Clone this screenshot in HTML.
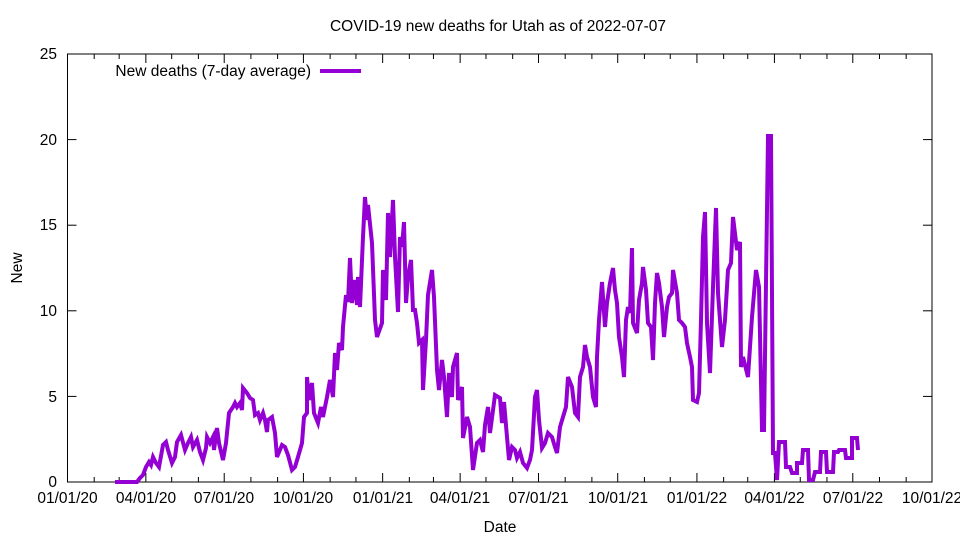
<!DOCTYPE html>
<html><head><meta charset="utf-8"><style>
html,body{margin:0;padding:0;background:#fff}
svg{display:block}
text{font-family:"Liberation Sans",sans-serif;font-size:15.5px;fill:#000}
</style></head><body>
<svg id="s" width="960" height="540" viewBox="0 0 960 540" xmlns="http://www.w3.org/2000/svg">
<rect width="960" height="540" fill="#fff"/>
<g id="ticks" stroke="#000" stroke-width="1"></g>
<rect x="67.5" y="54" width="864.5" height="428" fill="none" stroke="#000" stroke-width="1"/>
<text x="498" y="31" text-anchor="middle">COVID-19 new deaths for Utah as of 2022-07-07</text>
<text x="500" y="532" text-anchor="middle">Date</text>
<text transform="translate(22,268) rotate(-90)" text-anchor="middle">New</text>
<g text-anchor="end">
<text x="57" y="487">0</text>
<text x="57" y="402">5</text>
<text x="57" y="316">10</text>
<text x="57" y="230">15</text>
<text x="57" y="145">20</text>
<text x="57" y="59">25</text>
</g>
<g text-anchor="middle">
<text x="67.5" y="503">01/01/20</text>
<text x="146" y="503">04/01/20</text>
<text x="224" y="503">07/01/20</text>
<text x="303" y="503">10/01/20</text>
<text x="383" y="503">01/01/21</text>
<text x="460" y="503">04/01/21</text>
<text x="538.5" y="503">07/01/21</text>
<text x="618" y="503">10/01/21</text>
<text x="697" y="503">01/01/22</text>
<text x="774.5" y="503">04/01/22</text>
<text x="853" y="503">07/01/22</text>
<text x="932" y="503">10/01/22</text>
</g>
<text x="311" y="76" text-anchor="end">New deaths (7-day average)</text>
<line x1="320" y1="71" x2="361" y2="71" stroke="#9400d3" stroke-width="4"/>
<polyline fill="none" stroke="#9400d3" stroke-width="4" stroke-linejoin="miter" points="
115,482 137,482 140,478 143,475 146,467 149,462 151,465 153,457 156,463 159,467 163,445 166,442 168,450 172,463 175,457 177,442 181,435 185,450 188,443 191,437 193,447 197,440 200,452 203,460 206,448 207,437 210,443 213,437 214,450 217,428 219,443 223,460 226,443 229,413 233,407 235,403 237,407 240,403 242,410 243,388 247,393 250,398 253,400 255,415 258,413 260,420 263,413 265,420 267,432 268,420 272,417 275,433 277,457 282,445 285,447 288,455 292,470 295,467 298,457 302,443 304,417 307,413
307,377 309,400 312,383 314,413 318,423 321,407 323,417 327,397 330,380 333,397 335,353 337,370 339,343 342,350 343,327 346,295 348,302 350,258 352,303 355,280 357,305 358,277 360,307 363,237 365,197 367,220 368,205 372,243 375,320 377,337 382,323 383,270 386,300 388,213 390,257 393,200 395,257 398,312 400,237 402,247 404,222 406,303 408,277 411,260 413,310 415,310 417,323 419,343 422,340 423,390 426,340 428,295 432,270 434,297 437,370 439,390 442,360 444,377 447,417 449,373 452,397 453,367 457,353 458,400 462,387 463,438 467,417 470,427 473,470 477,443 480,440 483,452 485,425 488,407 490,433 495,395 500,398 502,423 504,402 507,437 509,460 512,447 515,450 517,458 520,452
523,463 527,468 530,460 532,450 535,397 537,390 539,420 542,448 545,443 548,433 552,437 555,447 557,453 560,427 563,417 566,407 568,377 572,387 575,413 578,417 580,377 583,367 585,345 587,357 590,367 593,397 596,407 597,357 599,320 602,282 603,297 605,327 607,303 610,283 613,268 615,290 617,303 619,337 622,357 624,377 626,320 628,307 630,313 632,248 633,323 637,333 639,300 642,283 643,267 646,290 648,323 651,327 653,360 655,303 657,273 659,283 662,307 664,337 667,307 669,297 672,293 673,270 677,293 679,320 682,323 685,327 687,343 690,357 692,367 693,400 697,402 699,393 701,320 703,237 705,212 707,323 710,373 713,287
716,208 718,293 722,347 725,320 728,270 731,263 733,217 737,250 740,242 741,367 743,357 748,377 752,317 756,270 759,287 762,430 764,430 768,136 771,136 773,453 775,453 777,480 779,442 785,442 786,467 790,467 792,473 797,473 797,463 802,463 803,450 808,450 809,480 813,480 815,472 820,472 821,452 826,452 827,472 833,472 834,452 838,452 839,450 845,450 846,458 852,458 852,438 857,438 858,450"/>
</svg>
<script>
(function(){
var g=document.getElementById('ticks'),ns='http://www.w3.org/2000/svg';
function L(x1,y1,x2,y2){var l=document.createElementNS(ns,'line');l.setAttribute('x1',x1);l.setAttribute('y1',y1);l.setAttribute('x2',x2);l.setAttribute('y2',y2);g.appendChild(l);}
var k=864.5/1004;
[0,91,182,274,366,456,547,639,731,821,912,1004].forEach(function(d){var x=67.5+d*k;L(x,482,x,473);L(x,54,x,63);});
[31,60,121,152,213,244,305,335,397,425,486,517,578,609,670,700,762,790,851,882,943,974].forEach(function(d){var x=67.5+d*k;L(x,482,x,477);L(x,54,x,59);});
for(var i=0;i<=5;i++){var y=482-i*85.6;L(67.5,y,76.5,y);L(932,y,923,y);}
})();
</script>
</body></html>
